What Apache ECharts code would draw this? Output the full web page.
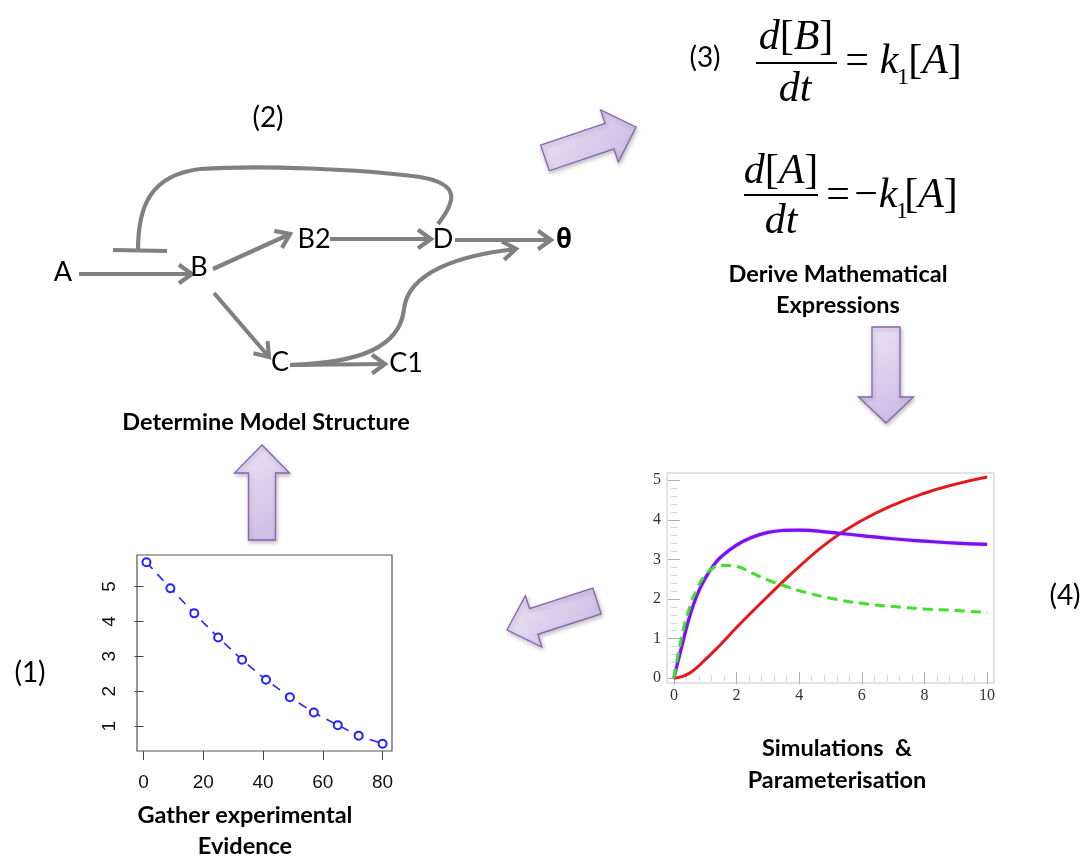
<!DOCTYPE html>
<html><head><meta charset="utf-8">
<script src="https://cdn.jsdelivr.net/npm/echarts@6/dist/echarts.min.js"></script>
<style>html,body{margin:0;padding:0;background:#fff}#c{width:1086px;height:857px}</style>
</head><body><div id="c"></div>
<script>
// ---- Panel (1): experimental evidence ----
const evidenceX = [1, 9, 17, 25, 33, 41, 49, 57, 65, 72, 80];
const evidenceY = [5.69, 4.95, 4.23, 3.54, 2.90, 2.33, 1.83, 1.39, 1.03, 0.73, 0.50];
const evidenceXTicks = [0, 20, 40, 60, 80];
const evidenceYTicks = [1, 2, 3, 4, 5];

// ---- Panel (4): simulations ----
const simT      = [0, 0.25, 0.5, 0.75, 1, 1.25, 1.5, 2, 2.5, 3, 3.5, 4, 5, 6, 7, 8, 9, 10];
const simPurple = [0, 0.8, 1.55, 2.12, 2.52, 2.83, 3.06, 3.36, 3.56, 3.68, 3.73, 3.74, 3.68, 3.60, 3.52, 3.46, 3.41, 3.38];
const simGreen  = [0, 1.05, 1.78, 2.28, 2.6, 2.78, 2.85, 2.82, 2.65, 2.48, 2.34, 2.21, 2.02, 1.89, 1.81, 1.75, 1.71, 1.66];
const simRed    = [0, 0.04, 0.13, 0.28, 0.47, 0.66, 0.86, 1.28, 1.68, 2.07, 2.45, 2.82, 3.48, 3.98, 4.37, 4.67, 4.9, 5.08];
const simXTicks = [0, 2, 4, 6, 8, 10];
const simYTicks = [0, 1, 2, 3, 4, 5];
const simXMinor = [0.4, 0.8, 1.2, 1.6, 2.4, 2.8, 3.2, 3.6, 4.4, 4.8, 5.2, 5.6, 6.4, 6.8, 7.2, 7.6, 8.4, 8.8, 9.2, 9.6];
const simYMinor = [0.2, 0.4, 0.6, 0.8, 1.2, 1.4, 1.6, 1.8, 2.2, 2.4, 2.6, 2.8, 3.2, 3.4, 3.6, 3.8, 4.2, 4.4, 4.6, 4.8];

// ---- Texts ----
const diagramLabels = ['A', 'B', 'B2', 'D', 'θ', 'C', 'C1'];
const captions = {
  model: 'Determine Model Structure',
  derive: ['Derive Mathematical', 'Expressions'],
  sim: ['Simulations  &', 'Parameterisation'],
  gather: ['Gather experimental', 'Evidence'],
  steps: ['(1)', '(2)', '(3)', '(4)']
};

// ---------------- layout (positions / styles) ----------------
const GRAY = '#808080';
const LW = 4.2;
const nodePos = {A:[63,272], B:[199,267], B2:[314,239], D:[443,239], 'θ':[564,241], C:[280,362], C1:[406,363]};

function chevron(x, y, ang, len, spread) {
  const a1 = ang + Math.PI - spread, a2 = ang + Math.PI + spread;
  return {type:'polyline', shape:{points:[[x+len*Math.cos(a1), y+len*Math.sin(a1)],[x,y],[x+len*Math.cos(a2), y+len*Math.sin(a2)]]},
    style:{stroke:GRAY, lineWidth:LW, fill:null, lineJoin:'miter'}};
}
function arrowLine(x1,y1,x2,y2){
  const ang = Math.atan2(y2-y1, x2-x1);
  return [
    {type:'line', shape:{x1,y1,x2,y2}, style:{stroke:GRAY, lineWidth:LW}},
    chevron(x2,y2,ang,16,0.62)
  ];
}
function bigArrow(tx,ty,hx,hy,sw,hw,hl){
  const ang = Math.atan2(hy-ty, hx-tx);
  const L = Math.hypot(hx-tx, hy-ty);
  const ux=Math.cos(ang), uy=Math.sin(ang), nx=-uy, ny=ux;
  const p=(a,b)=>[tx+ux*a+nx*b, ty+uy*a+ny*b];
  const pts=[p(0,-sw/2),p(L-hl,-sw/2),p(L-hl,-hw/2),p(L,0),p(L-hl,hw/2),p(L-hl,sw/2),p(0,sw/2)];
  return {type:'polygon', shape:{points:pts}, style:{
    fill:new echarts.graphic.LinearGradient(0,0,1,1,[{offset:0,color:'#ebe4f5'},{offset:1,color:'#c9b9e3'}]),
    stroke:'#8466b0', lineWidth:1.3, shadowBlur:4, shadowColor:'rgba(0,0,0,0.25)', shadowOffsetX:1, shadowOffsetY:2}};
}
function txt(t,x,y,size,opts){
  opts = opts||{};
  return {type:'text', x, y, style:Object.assign({text:t, fill:'#000', fontSize:size, fontFamily:'Lato', textAlign:'center', textVerticalAlign:'middle'}, opts)};
}
function curve(x1,y1,cpx1,cpy1,cpx2,cpy2,x2,y2){
  return {type:'bezierCurve', shape:{x1,y1,cpx1,cpy1,cpx2,cpy2,x2,y2}, style:{stroke:GRAY,lineWidth:LW,fill:null}};
}

const elements = [];
// purple process arrows
elements.push(bigArrow(545,158,636,127,27,55,28));
elements.push(bigArrow(886,327,886,423,28,55,26));
elements.push(bigArrow(262,540,262,445,27,55,28));
elements.push(bigArrow(597,601,507,630,27,54,28));

// network edges
elements.push(...arrowLine(79,274,192,274));
elements.push(...arrowLine(213,269,290,234));
elements.push(...arrowLine(330,239,431,239));
elements.push(...arrowLine(455,240,551,240));
elements.push(...arrowLine(214,293,269,357));
elements.push(...arrowLine(290,365,385,364));
// C -> theta curve
elements.push(curve(290,365, 360,363, 400,347, 404,309));
elements.push(curve(404,309, 408,272, 460,255, 516,249));
elements.push(chevron(516,249,-0.12,16,0.62));
// feedback inhibition from D onto A->B
elements.push(curve(438,224, 455,202, 462,184, 420,177));
elements.push(curve(420,177, 360,169, 260,165, 200,169));
elements.push(curve(200,169, 150,175, 138,207, 138,250));
elements.push({type:'line', shape:{x1:113,y1:250,x2:167,y2:251}, style:{stroke:GRAY,lineWidth:LW}});

// node labels
diagramLabels.forEach(l=>{
  const p=nodePos[l];
  if(l==='θ') elements.push(txt(l,p[0],p[1],26,{fontFamily:'Noto Sans',fontWeight:'bold'}));
  else elements.push(txt(l,p[0],p[1],27));
});

// captions
const capStyle={fontWeight:'bold', fontFamily:'Lato'};
const CS=23.5;
elements.push(txt(captions.model,266,422,CS,capStyle));
elements.push(txt(captions.derive[0],838,274,CS,capStyle));
elements.push(txt(captions.derive[1],838,305,CS,capStyle));
elements.push(txt(captions.sim[0],837,748,CS,capStyle));
elements.push(txt(captions.sim[1],837,780,CS,capStyle));
elements.push(txt(captions.gather[0],245,815,CS,capStyle));
elements.push(txt(captions.gather[1],245,846,CS,capStyle));
elements.push(txt(captions.steps[0],30,673,28));
elements.push(txt(captions.steps[1],268,118,28));
elements.push(txt(captions.steps[2],705,58,28));
elements.push(txt(captions.steps[3],1065,596,28));

// equations
const SER='Liberation Serif';
const eqRich={i:{fontStyle:'italic',fontFamily:SER,fontSize:42,fill:'#000'}, n:{fontFamily:SER,fontSize:42,fill:'#000'}};
function eqT(t,x,y,align){ return txt(t,x,y,42,{fontFamily:SER, rich:eqRich, textAlign:align||'center'}); }
// eq 1
elements.push(eqT('{i|d}{n|[}{i|B}{n|]}',796,38));
elements.push({type:'line', shape:{x1:756,y1:63,x2:837,y2:63}, style:{stroke:'#000',lineWidth:1.8}});
elements.push(eqT('{i|dt}',795,90));
elements.push(eqT('{n|=}',857,62));
elements.push(eqT('{i|k}',889,62));
elements.push(txt('1',903,78,24,{fontFamily:SER}));
elements.push(eqT('{n|[}{i|A}{n|]}',935,62));
// eq 2
elements.push(eqT('{i|d}{n|[}{i|A}{n|]}',781,172));
elements.push({type:'line', shape:{x1:744,y1:195,x2:818,y2:195}, style:{stroke:'#000',lineWidth:1.8}});
elements.push(eqT('{i|dt}',781,222));
elements.push(eqT('{n|=}',838,196));
elements.push(eqT('{n|−}',866,196));
elements.push(eqT('{i|k}',888,196));
elements.push(txt('1',902,212,24,{fontFamily:SER}));
elements.push(eqT('{n|[}{i|A}{n|]}',931,196));

// ---------------- axes ----------------
const rLabel={fontFamily:'Liberation Sans',fontSize:19,color:'#111'};
const mLabel={fontFamily:'Liberation Serif',fontSize:16,color:'#333'};
function simX(pos, ticks, len, labels){
  return {type:'value', gridIndex:1, position:pos, min:-0.22, max:10.22,
    axisLine:{show:false}, splitLine:{show:false},
    axisTick:{show:true, inside:true, length:len, customValues:ticks, lineStyle:{color:labels||len>4?'#aaa':'#d4d4d4'}},
    axisLabel:labels?Object.assign({show:true, customValues:simXTicks, margin:5},mLabel):{show:false}};
}
function simY(pos, ticks, len, labels){
  return {type:'value', gridIndex:1, position:pos, min:-0.12, max:5.18,
    axisLine:{show:false}, splitLine:{show:false},
    axisTick:{show:true, inside:true, length:len, customValues:ticks, lineStyle:{color:labels||len>4?'#aaa':'#d4d4d4'}},
    axisLabel:labels?Object.assign({show:true, customValues:simYTicks, margin:6},mLabel):{show:false}};
}

const option = {
  backgroundColor:'#fff',
  animation:false,
  grid:[
    {left:137, top:555, width:255, height:196, show:true, borderColor:'#555', borderWidth:1.2, backgroundColor:'#fff'},
    {left:667, top:473, width:327, height:210, show:true, borderColor:'#c6c6c6', borderWidth:1, backgroundColor:'#fff'}
  ],
  xAxis:[
    {type:'value', gridIndex:0, min:-2.16, max:83.16, axisLine:{show:false}, splitLine:{show:false},
     axisTick:{show:true, length:9, customValues:evidenceXTicks, lineStyle:{color:'#444'}},
     axisLabel:Object.assign({show:true, customValues:evidenceXTicks, margin:22},rLabel)},
    simX('bottom', simXTicks, 6, true),
    simX('bottom', simXMinor, 3, false),
    simX('top', simXTicks, 6, false),
    simX('top', simXMinor, 3, false)
  ],
  yAxis:[
    {type:'value', gridIndex:0, min:0.29, max:5.90, axisLine:{show:false}, splitLine:{show:false},
     axisTick:{show:true, length:9, customValues:evidenceYTicks, lineStyle:{color:'#444'}},
     axisLabel:Object.assign({show:true, customValues:evidenceYTicks, margin:18, rotate:90},rLabel)},
    simY('left', simYTicks, 6, true),
    simY('left', simYMinor, 3, false),
    simY('right', simYTicks, 6, false),
    simY('right', simYMinor, 3, false)
  ],
  series:[
    {type:'line', xAxisIndex:0, yAxisIndex:0, data:evidenceX.map((x,i)=>[x,evidenceY[i]]),
     symbol:'emptyCircle', symbolSize:8, itemStyle:{color:'#2222ff', borderWidth:1.8},
     lineStyle:{color:'#2222ff', width:1.6, type:[9,7]}, silent:true},
    {type:'line', xAxisIndex:1, yAxisIndex:1, data:simT.map((t,i)=>[t,simRed[i]]), smooth:true, showSymbol:false,
     lineStyle:{color:'#e31a1c', width:3}, silent:true},
    {type:'line', xAxisIndex:1, yAxisIndex:1, data:simT.map((t,i)=>[t,simPurple[i]]), smooth:true, showSymbol:false,
     lineStyle:{color:'#7a10f0', width:3.2, shadowBlur:2, shadowColor:'rgba(150,80,255,0.5)'}, silent:true},
    {type:'line', xAxisIndex:1, yAxisIndex:1, data:simT.map((t,i)=>[t,simGreen[i]]), smooth:true, showSymbol:false,
     lineStyle:{color:'#3ee02a', width:3, type:[10,6]}, silent:true}
  ],
  graphic:{elements}
};
const chart = echarts.init(document.getElementById('c'));
chart.setOption(option);
</script></body></html>
